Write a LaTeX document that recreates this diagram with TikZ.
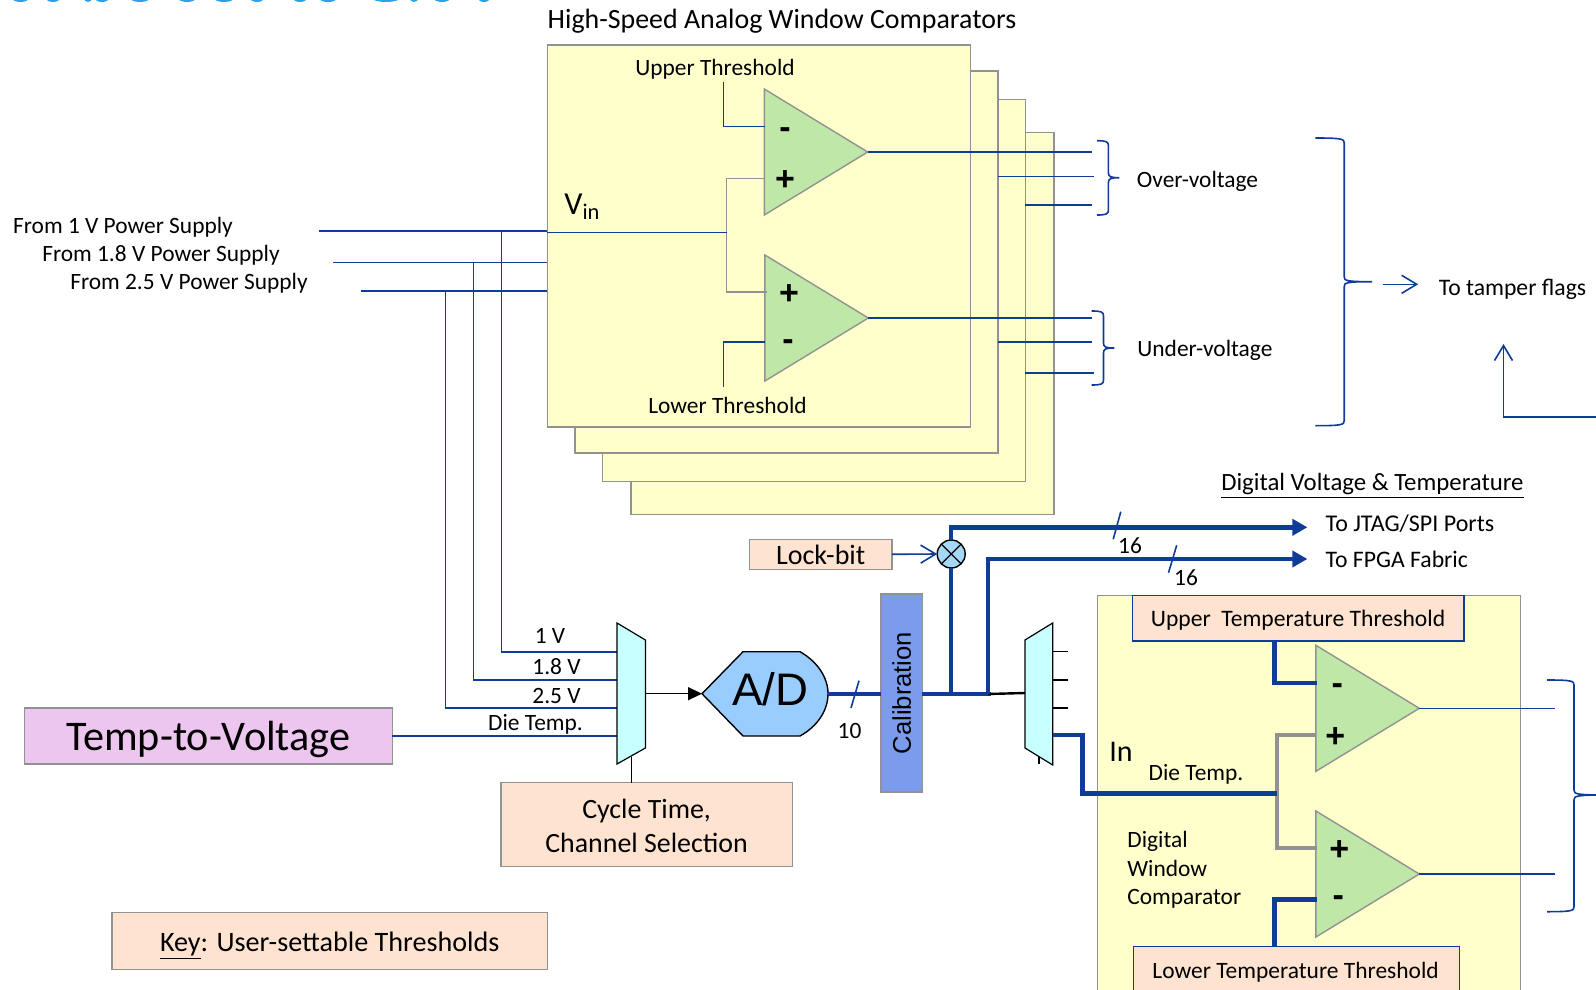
\documentclass[tikz,border=0pt]{standalone}
\usepackage{xcolor}
\usepackage{fontspec}
\setmainfont{Carlito}
\newfontfamily\arialfont{Liberation Sans}
\usepackage{tikz}
\usetikzlibrary{arrows.meta, calc, shapes.geometric}

\definecolor{panelyellow}{HTML}{FFFFCC}
\definecolor{edgegray}{HTML}{929292}
\definecolor{wireblue}{HTML}{0F3C96}
\definecolor{peach}{HTML}{FFE3D1}
\definecolor{lilac}{HTML}{ECC6EE}
\definecolor{muxcyan}{HTML}{C8FFFF}
\definecolor{compgreen}{HTML}{BFE8A8}
\definecolor{adcblue}{HTML}{99CCFF}
\definecolor{calblue}{HTML}{7B9CED}
\definecolor{xorblue}{HTML}{A6D8F5}
\definecolor{titleblue}{HTML}{29A3E8}

\newcommand{\fsz}[1]{\fontsize{#1}{#1}\selectfont}
% x0, x1, tip, y0, ymid, y1
\newcommand{\sidebrace}[6]{%
  \draw[wire] (#1,#4) .. controls ({#2-2},#4) and (#2,{#4+1}) .. (#2,{#4+5})
    -- (#2,{#5-5}) .. controls (#2,{#5-1}) and ({#2+2},#5) .. (#3,#5)
    .. controls ({#2+2},#5) and (#2,{#5+1}) .. (#2,{#5+5})
    -- (#2,{#6-5}) .. controls (#2,{#6-1}) and ({#2-2},#6) .. (#1,#6);}

\begin{document}
\begin{tikzpicture}[
    x=0.5pt, y=-0.5pt,
    font=\fsz{11.7},
    wire/.style={draw=wireblue, line width=0.8pt},
    buswire/.style={draw=wireblue, line width=2.2pt},
    graywire/.style={draw=edgegray, line width=0.8pt},
    grayfat/.style={draw=edgegray, line width=2.2pt},
    panel/.style={draw=edgegray, line width=0.7pt, fill=panelyellow, inner sep=0pt,
                  outer sep=0pt, minimum width=211.5pt, minimum height=191pt},
    peachbox/.style={draw=edgegray, line width=0.7pt, fill=peach, inner sep=0pt,
                     outer sep=0pt, align=center},
    threshbox/.style={peachbox, draw=wireblue},
    comp/.style={isosceles triangle, isosceles triangle stretches, draw=edgegray,
                 line width=0.7pt, fill=compgreen, inner sep=0pt, outer sep=0pt,
                 minimum width=63pt, minimum height=51.7pt, anchor=apex},
    mux/.style={draw=black, line width=0.6pt, fill=muxcyan},
    sign/.style={font=\arialfont\bfseries\fsz{17}, inner sep=0pt},
    lbl/.style={inner sep=0pt, yshift=-0.7pt},
    barbtip/.style={-{Straight Barb[length=7.5pt, width=9pt]}}
  ]
    \clip (0,0) rectangle (1596,990);
    % title strip cut by the page edge
    \foreach \cx/\rx in {20.5/8.5, 53/7, 88/4, 102/7, 140/10, 187/9, 224/10, 257/7,
                         300/7, 328/9, 386/14, 414/4.5, 442/8.5, 484/6}
      \fill[titleblue] (\cx,-2) ellipse [x radius=\rx, y radius=4];

    % analog stack
    \node[panel] (pan4) at (842.6,323.5) {};
    \node[panel] (pan3) at (814.2,290.5) {};
    \node[panel] (pan2) at (786.5,262) {};
    \node[panel] (pan1) at (758.8,236) {};
    \node[lbl, font=\fsz{13.95}] (stacktitle) at (782,19.5) {High-Speed Analog Window Comparators};

    \node[comp] (upcmp) at (867.7,152) {};
    \node[comp] (locmp) at (868.3,318) {};
    \node[sign] (upm) at (785,133) {-};
    \node[sign] (upp) at (785,181) {+};
    \node[sign] (lop) at (789,295) {+};
    \node[sign] (lom) at (788,345) {-};

    \node[lbl] (upth) at (715,68) {Upper Threshold};
    \node[lbl] (loth) at (727.5,403.6) {Lower Threshold};
    \node[lbl, font=\fsz{16}, anchor=west] (vin) at (564,205) {V\textsubscript{in}};

    \coordinate (upthend) at (723.5,81.7);
    \coordinate (upmpin) at (765,126.7);
    \coordinate (lothend) at (723.5,386.7);
    \coordinate (lompin) at (765,342);
    \coordinate (upppin) at (765,178.7);
    \coordinate (loppin) at (767,291.7);
    \coordinate (vinend) at (726.5,232.3);
    \draw[wire] (upthend) |- (upmpin);
    \draw[wire] (lothend) |- (lompin);
    \draw[graywire] (upppin) -| (vinend) |- (loppin);
    \draw[wire] (vinend) -- (vinend -| pan1.west);

    % supply rails
    \coordinate (sup1) at (319,230.7);
    \coordinate (sup2) at (333,262.3);
    \coordinate (sup3) at (361,290.7);
    \coordinate (tap1) at (501.5,230.7);
    \coordinate (tap2) at (473.5,262.3);
    \coordinate (tap3) at (445.4,290.7);
    \coordinate (pin1) at (617,651.7);
    \coordinate (pin2) at (617,680);
    \coordinate (pin3) at (617,708);
    \coordinate (pin4) at (617,736);
    \node[lbl] (from1) at (123,226) {From 1 V Power Supply};
    \node[lbl] (from2) at (161,254) {From 1.8 V Power Supply};
    \node[lbl] (from3) at (189,282) {From 2.5 V Power Supply};
    \foreach \s in {sup1, sup2, sup3}
      \draw[wire] (\s) -- (\s -| pan1.west);
    \draw[wire] (tap1) |- (pin1);
    \draw[wire] (tap2) |- (pin2);
    \draw[wire] (tap3) |- (pin3);

    % analog outputs
    \foreach \yy/\xa/\xb in {176.7/997.5/1093.5, 204.7/1025.3/1091.5,
                             342/997.5/1091.5, 373/1025.3/1093.5}
      \draw[wire] (\xa,\yy) -- (\xb,\yy);
    \coordinate (upout) at (1091.5,152);
    \coordinate (loout) at (1091.5,318);
    \draw[wire] (upcmp.apex) -- (upout);
    \draw[wire] (locmp.apex) -- (loout);
    \sidebrace{1097}{1108.4}{1119.4}{140.7}{177.7}{215}
    \sidebrace{1091.5}{1103.5}{1114.4}{311}{348}{385}
    \sidebrace{1315.4}{1344.2}{1372}{138}{281.7}{425.7}
    \sidebrace{1547.2}{1574}{1606}{680}{795}{911.7}
    \node[lbl] (overv) at (1197.5,180) {Over-voltage};
    \node[lbl] (underv) at (1204.9,349) {Under-voltage};
    \node[lbl, font=\fsz{11.85}] (tamper) at (1512.5,288) {To tamper flags};
    \coordinate (tampera) at (1382.8,284.3);
    \coordinate (tamperb) at (1418.2,284.3);
    \draw[wire, barbtip] (tampera) -- (tamperb);
    \coordinate (flagin) at (1503.5,344);
    \coordinate (flagfrom) at (1600,417);
    \draw[wire, barbtip] (flagfrom) -| (flagin);

    % acquisition chain
    \node[draw=edgegray, line width=0.7pt, fill=lilac, minimum width=184pt, minimum height=28pt,
          inner sep=0pt, outer sep=0pt, font=\fsz{21.1}, text height=15.5pt, text depth=1.4pt] (tempv) at (208.4,736) {Temp-to-Voltage};
    \draw[wire] (tempv.east |- pin4) -- (pin4);
    \draw[mux] (617,623) -- (645.4,640) -- (645.4,748) -- (617,764) -- cycle;
    \node[lbl] (lab1) at (550,634.5) {1 V};
    \node[lbl] (lab2) at (556.5,665.5) {1.8 V};
    \node[lbl] (lab3) at (556.5,694.5) {2.5 V};
    \node[lbl] (lab4) at (535.5,723) {Die Temp.};
    \node[peachbox, minimum width=145.7pt, minimum height=42pt, font=\fsz{13.95}] (cycle) at (646.6,824.7)
      {\rule{0pt}{11pt}Cycle Time,\\[3pt]Channel Selection};
    \coordinate (selpin) at (631.6,757);
    \draw[black, line width=0.6pt] (selpin) -- (selpin |- cycle.north);
    \coordinate (muxout) at (645.4,693.7);
    \coordinate (adcin) at (702,693.7);
    \coordinate (adcout) at (828,693.7);
    \draw[black, line width=0.7pt, -{Triangle[length=7pt, width=6.5pt]}] (muxout) -- (adcin);
    \draw[black, line width=0.7pt, fill=adcblue] (adcin) -- (743,651.7) -- (800,651.7)
      .. controls (818,662) and (828,678) .. (adcout)
      .. controls (828,710) and (818,726) .. (800,736) -- (743,736) -- cycle;
    \node[lbl, font=\arialfont\fsz{22.8}] (adc) at (770,688) {A/D};

    \node[draw=edgegray, line width=0.7pt, fill=calblue, minimum width=20.7pt, minimum height=99pt,
          inner sep=0pt, outer sep=0pt] (calib) at (901.6,693) {};
    \node[inner sep=0pt, rotate=90, font=\arialfont\fsz{12.8}] (calibtxt) at (calib.center) {Calibration};
    \draw[buswire] (adcout) -- (adcout -| calib.west);
    \coordinate (sl10a) at (859,680.7);
    \coordinate (sl10b) at (851,708);
    \draw[wire] (sl10a) -- (sl10b);
    \node[lbl] (n10) at (849.5,729.5) {10};

    % digital outputs
    \node[circle, draw=black, line width=0.7pt, fill=xorblue, minimum size=14pt, inner sep=0pt,
          outer sep=0pt] (xorgate) at (951.2,554) {};
    \draw[black, line width=0.6pt] (xorgate.north west) -- (xorgate.south east);
    \draw[black, line width=0.6pt] (xorgate.north east) -- (xorgate.south west);
    \node[peachbox, minimum width=71.2pt, minimum height=15pt, font=\fsz{14}, text height=10.6pt, text depth=0pt] (lockbit) at (820.7,554.3) {Lock-bit};
    \draw[wire, barbtip] (lockbit.east) -- (xorgate.west);

    \node[lbl, font=\fsz{12.4}] (digtitle) at (1372.4,484.5) {\underline{Digital Voltage \& Temperature}};
    \node[lbl, anchor=west, font=\fsz{12}] (jtag) at (1325.3,522) {To JTAG/SPI Ports};
    \node[lbl, anchor=west, font=\fsz{11.85}] (fpga) at (1325.3,558) {To FPGA Fabric};
    \coordinate (jtagend) at (1307.4,527.3);
    \coordinate (fpgaend) at (1307.4,559);
    \coordinate (busa) at (951.2,694);
    \coordinate (busb) at (987.8,694);
    \draw[buswire] (calib.east |- busa) -- (991,694);
    \draw[black, line width=1.2pt] (busb) -- (1025,693);
    \draw[buswire] (busa) -- (xorgate.south);
    \draw[buswire, -{Triangle[length=7.5pt, width=8pt]}] (xorgate.north) |- (jtagend);
    \draw[buswire, -{Triangle[length=7.5pt, width=8pt]}] (busb) |- (fpgaend);
    \coordinate (sl16a) at (1120.8,511.7);
    \coordinate (sl16b) at (1113.2,539.3);
    \coordinate (sl16c) at (1176.7,545.3);
    \coordinate (sl16d) at (1168.5,572.7);
    \draw[wire] (sl16a) -- (sl16b);
    \draw[wire] (sl16c) -- (sl16d);
    \node[lbl] (n16a) at (1130,544) {16};
    \node[lbl] (n16b) at (1186,576) {16};

    % digital comparator
    \draw[draw=edgegray, line width=0.7pt, fill=panelyellow] (1097.5,595.7) rectangle (1520.3,1000);
    \draw[black, line width=0.6pt] (1052.7,651.7) -- (1067.6,651.7);
    \draw[black, line width=0.6pt] (1052.7,680) -- (1067.6,680);
    \draw[black, line width=0.6pt] (1052.7,708) -- (1067.6,708);
    \draw[mux] (1052.7,623) -- (1025,640) -- (1025,748) -- (1052.7,765) -- cycle;
    \draw[black, line width=0.6pt] (1039,756.7) -- (1039,764);
    \node[threshbox, minimum width=165.8pt, minimum height=22.6pt, font=\fsz{11.8}, text height=9pt, text depth=1.2pt] (upt) at (1298,618.3)
      {Upper~ Temperature Threshold};
    \node[threshbox, minimum width=163pt, minimum height=23.3pt, font=\fsz{11.73}] (lot) at (1296.6,970) {};
    \node[lbl, font=\fsz{11.73}] (lottxt) at (1295.6,971) {Lower Temperature Threshold};
    \node[comp] (tupcmp) at (1419.3,708.3) {};
    \node[comp] (tlocmp) at (1419.3,874) {};
    \node[sign] (tum) at (1337.2,689) {-};
    \node[sign] (tup) at (1335.2,738) {+};
    \node[sign] (tlp) at (1339.2,851) {+};
    \node[sign] (tlm) at (1338.2,901) {-};
    \coordinate (tumpin) at (1317,682.7);
    \coordinate (tlmpin) at (1317,899.3);
    \coordinate (tuppin) at (1315.4,735);
    \coordinate (tlppin) at (1317,847.7);
    \coordinate (tmid) at (1277.2,793.3);
    \coordinate (muxdie) at (1052.7,735);
    \coordinate (diebend) at (1082.6,793.3);
    \coordinate (uptpin) at (1274.6,641);
    \coordinate (lotpin) at (1274.6,946.7);
    \draw[buswire] (uptpin) |- (tumpin);
    \draw[buswire] (lotpin) |- (tlmpin);
    \draw[grayfat] (tuppin) -| (tmid) |- (tlppin);
    \draw[buswire] (muxdie) -| (diebend) -- (tmid);
    \draw[wire] (tupcmp.apex) -- (1555,708.3);
    \draw[wire] (tlocmp.apex) -- (1555,874);
    \node[lbl, font=\fsz{15}] (inlbl) at (1120.9,750) {In};
    \node[lbl] (dietxt) at (1196,773) {Die Temp.};
    \node[lbl, anchor=west] (dw1) at (1127,840) {Digital};
    \node[lbl, anchor=west] (dw2) at (1127,866.6) {Window};
    \node[lbl, anchor=west] (dw3) at (1127,897) {Comparator};

    \node[peachbox, minimum width=217.7pt, minimum height=28.3pt, font=\fsz{14.06}, text height=11.6pt, text depth=1.6pt] (key) at (329.7,941)
      {\underline{Key}: User-settable Thresholds};
  \end{tikzpicture}
\end{document}
